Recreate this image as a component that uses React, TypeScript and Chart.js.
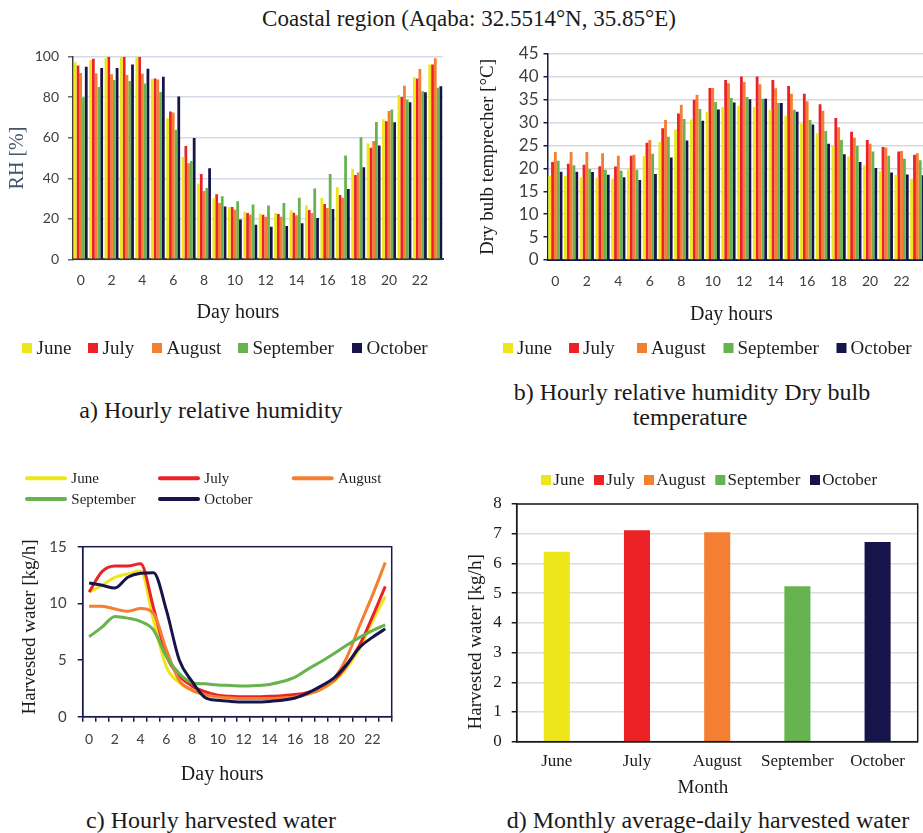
import React, { useEffect, useRef } from 'react';
import { Chart, registerables } from 'chart.js';

Chart.register(...registerables);

// ---------------- data ----------------
const hourLabels = ['0', '1', '2', '3', '4', '5', '6', '7', '8', '9', '10', '11', '12', '13', '14', '15', '16', '17', '18', '19', '20', '21', '22', '23'];
const monthNames = ['June', 'July', 'August', 'September', 'October'];
const monthColors = ['#ECE61B', '#EC2227', '#F47E32', '#67B34F', '#16144A'];

// a) hourly relative humidity [%]
const rhJune = [97.2, 98.2, 99.3, 100, 100, 89, 69.6, 50.5, 37.3, 30.1, 25.8, 23.5, 22.5, 22.9, 24.2, 26.6, 30.3, 35.7, 44.7, 57.2, 69.1, 81.1, 89.8, 96.2];
const rhJuly = [95.7, 99, 100, 100, 100, 89.3, 73, 55.9, 42.1, 32.1, 25.8, 22.9, 22.0, 22.4, 23.0, 24.3, 27.3, 31.7, 41.6, 55.1, 68.1, 80.1, 89.3, 96.2];
const rhAugust = [91.9, 91.8, 91.3, 91, 91.6, 88.7, 72.4, 47.4, 33.7, 27.8, 24.5, 22.0, 21.0, 21.0, 21.7, 22.9, 25.3, 30.4, 42.9, 58.4, 73.2, 85.7, 93.9, 99.2];
const rhSeptember = [80, 85, 88.5, 88, 86.8, 82.6, 64, 48.5, 35.2, 31.1, 28.6, 27.1, 26.6, 27.8, 30.4, 35.0, 42.1, 51.2, 60.2, 67.8, 74.0, 78.9, 82.9, 84.7];
const rhOctober = [95, 94.4, 94.4, 96.2, 94, 90.1, 80.4, 59.9, 45, 26, 19.6, 17.1, 16.1, 16.4, 17.8, 20.4, 24.8, 34.7, 45.4, 56.2, 67.6, 77.5, 82.4, 85.4];

// b) hourly dry bulb temperature [°C]
const tJune = [18.4, 18.35, 18.1, 18.0, 17.8, 19.7, 22.7, 25.8, 28.5, 30.7, 32.4, 33.4, 33.7, 33.4, 32.8, 31.5, 29.7, 27.7, 25.1, 22.6, 20.7, 19.4, 18.6, 17.7];
const tJuly = [21.4, 21.0, 20.8, 20.5, 20.4, 22.8, 25.6, 28.8, 32.0, 35.0, 37.6, 39.3, 40.1, 40.1, 39.3, 38.0, 36.3, 34.0, 31.0, 28.0, 26.2, 24.7, 23.7, 23.0];
const tAugust = [23.6, 23.6, 23.6, 23.3, 22.8, 23.0, 26.2, 30.6, 33.9, 36.1, 37.6, 38.6, 38.9, 38.4, 37.5, 36.3, 34.7, 32.6, 29.0, 26.7, 25.4, 24.6, 23.8, 23.3];
const tSeptember = [21.7, 20.7, 19.9, 19.7, 19.5, 19.7, 23.2, 26.9, 30.8, 33.0, 34.5, 35.4, 35.6, 35.2, 34.3, 32.8, 30.6, 28.2, 26.2, 24.9, 23.7, 22.8, 22.1, 21.8];
const tOctober = [19.3, 19.3, 19.2, 18.6, 18.1, 17.5, 18.8, 22.4, 26.1, 30.4, 32.9, 34.4, 35.1, 35.2, 34.3, 32.4, 29.6, 25.4, 23.1, 21.4, 20.1, 19.1, 18.7, 18.5];

// c) hourly harvested water [kg/h]
const hwJune = [11.0, 11.6, 12.3, 12.6, 12.85, 8.5, 4.4, 3.0, 2.3, 1.95, 1.75, 1.7, 1.65, 1.65, 1.65, 1.7, 1.8, 2.0, 2.4, 3.1, 4.3, 6.0, 8.4, 10.6];
const hwJuly = [11.0, 12.8, 13.3, 13.3, 13.5, 9.6, 5.4, 3.6, 2.7, 2.2, 1.9, 1.8, 1.75, 1.75, 1.8, 1.85, 1.95, 2.15, 2.5, 3.2, 4.5, 6.3, 8.8, 11.5];
const hwAugust = [9.75, 9.75, 9.5, 9.3, 9.55, 9.1, 5.9, 3.2, 2.35, 1.95, 1.75, 1.65, 1.6, 1.6, 1.6, 1.65, 1.75, 2.0, 2.4, 3.3, 5.2, 8.0, 10.7, 13.6];
const hwSeptember = [7.05, 7.9, 8.85, 8.7, 8.4, 7.65, 5.3, 3.8, 3.0, 2.9, 2.8, 2.75, 2.7, 2.75, 2.85, 3.1, 3.5, 4.2, 4.85, 5.55, 6.3, 7.0, 7.6, 8.1];
const hwOctober = [11.8, 11.6, 11.35, 12.3, 12.65, 12.7, 9.4, 5.0, 3.1, 1.7, 1.45, 1.35, 1.3, 1.3, 1.35, 1.45, 1.65, 2.1, 2.7, 3.4, 4.6, 6.1, 7.0, 7.75];

// d) monthly average-daily harvested water [kg/h]
const monthlyWater = [6.39, 7.12, 7.05, 5.23, 6.72];

const rhSeries = [rhJune, rhJuly, rhAugust, rhSeptember, rhOctober];
const tSeries = [tJune, tJuly, tAugust, tSeptember, tOctober];
const hwSeries = [hwJune, hwJuly, hwAugust, hwSeptember, hwOctober];

// ---------------- styling helpers ----------------
const SERIF = "'Liberation Serif', 'Times New Roman', serif";
const SANS = "Lato, 'Noto Sans', sans-serif";
const NAVY = '#1b1a4f';
const NB = '\u00a0';

type LegendCfg = { xs: number[]; ys: number[]; kind: 'box' | 'line'; size: number; gap: number; font: string; lineWidth?: number };

function makeLegend(cfg: LegendCfg) {
  return {
    id: 'fixedLegend',
    afterDraw(chart: any) {
      const ctx = chart.ctx;
      ctx.save();
      ctx.font = cfg.font;
      ctx.textBaseline = 'middle';
      ctx.textAlign = 'left';
      monthNames.forEach((name, i) => {
        const x = cfg.xs[i];
        const y = cfg.ys[i];
        if (cfg.kind === 'line') {
          ctx.strokeStyle = monthColors[i];
          ctx.lineWidth = cfg.lineWidth || 4;
          ctx.lineCap = 'round';
          ctx.beginPath();
          ctx.moveTo(x + 2, y);
          ctx.lineTo(x + cfg.size - 2, y);
          ctx.stroke();
        } else {
          ctx.fillStyle = monthColors[i];
          ctx.fillRect(x, y - cfg.size / 2, cfg.size, cfg.size);
        }
        ctx.fillStyle = '#1e1e1e';
        ctx.fillText(name, x + cfg.size + cfg.gap, y + 1);
      });
      ctx.restore();
    },
  };
}

function makeFrame(color: string, width: number) {
  return {
    id: 'frame',
    afterDraw(chart: any) {
      const { left, top, right, bottom } = chart.chartArea;
      const ctx = chart.ctx;
      ctx.save();
      ctx.strokeStyle = color;
      ctx.lineWidth = width;
      ctx.strokeRect(left, top, right - left, bottom - top);
      ctx.restore();
    },
  };
}

const evenHour = (_v: any, i: number) => (i % 2 === 0 ? hourLabels[i] : '');

export default function App() {
  const refA = useRef<HTMLCanvasElement>(null);
  const refB = useRef<HTMLCanvasElement>(null);
  const refC = useRef<HTMLCanvasElement>(null);
  const refD = useRef<HTMLCanvasElement>(null);

  useEffect(() => {
    const charts: Chart[] = [];

    // ---- a) hourly relative humidity ----
    charts.push(
      new Chart(refA.current as HTMLCanvasElement, {
        type: 'bar',
        data: {
          labels: hourLabels,
          datasets: monthNames.map((m, i) => ({
            label: m,
            data: rhSeries[i],
            backgroundColor: monthColors[i],
            borderWidth: 0,
            categoryPercentage: 0.9,
            barPercentage: 1.0,
          })),
        },
        options: {
          animation: false,
          responsive: false,
          layout: { padding: { top: 26.7, right: 17, bottom: 0, left: 0 } },
          plugins: { legend: { display: false }, tooltip: { enabled: false } },
          scales: {
            x: {
              grid: { display: false, drawTicks: false },
              border: { display: true, color: '#3a3a3a', width: 2 },
              ticks: { autoSkip: false, maxRotation: 0, padding: 13, color: '#404040', font: { family: SANS, size: 14 }, callback: evenHour },
              title: { display: true, text: 'Day hours' + NB.repeat(8), color: '#1a1a1a', font: { family: SERIF, size: 20 }, padding: { top: 0, bottom: 45 } },
              afterFit: (s: any) => { s.height = 110.7; },
            },
            y: {
              min: 0,
              max: 100,
              ticks: { stepSize: 20, autoSkip: false, padding: 9, color: '#404040', font: { family: SANS, size: 14 } },
              grid: { color: '#d5dbe6', lineWidth: 1.5, tickLength: 5, tickColor: '#6b6b6b' },
              border: { color: '#404040', width: 1.5 },
              title: { display: true, text: 'RH [%]', color: '#44546a', font: { family: SERIF, size: 20 }, padding: { top: 6, bottom: 0 } },
              afterFit: (s: any) => { s.width = 73; },
            },
          },
        } as any,
        plugins: [makeLegend({ xs: [22, 88, 152, 238, 352], ys: [318, 318, 318, 318, 318], kind: 'box', size: 10, gap: 4.5, font: `19px ${SERIF}` })],
      })
    );

    // ---- b) hourly dry bulb temperature ----
    charts.push(
      new Chart(refB.current as HTMLCanvasElement, {
        type: 'bar',
        data: {
          labels: hourLabels,
          datasets: monthNames.map((m, i) => ({
            label: m,
            data: tSeries[i],
            backgroundColor: monthColors[i],
            borderWidth: 0,
            categoryPercentage: 0.9,
            barPercentage: 1.0,
          })),
        },
        options: {
          animation: false,
          responsive: false,
          layout: { padding: { top: 24, right: 3.3, bottom: 0, left: 0 } },
          plugins: { legend: { display: false }, tooltip: { enabled: false } },
          scales: {
            x: {
              grid: { display: false, drawTicks: false },
              border: { display: true, color: NAVY, width: 2 },
              ticks: { autoSkip: false, maxRotation: 0, padding: 12.6, color: '#404040', font: { family: SANS, size: 14 }, callback: evenHour },
              title: { display: true, text: 'Day hours' + NB.repeat(2), color: '#1a1a1a', font: { family: SERIF, size: 20 }, padding: { top: 0, bottom: 43 } },
              afterFit: (s: any) => { s.height = 110; },
            },
            y: {
              min: 0,
              max: 45,
              ticks: { stepSize: 5, autoSkip: false, padding: 5, color: '#404040', font: { family: SANS, size: 17 } },
              grid: { color: '#d9d9d9', lineWidth: 1.5, tickLength: 4, tickColor: NAVY },
              border: { color: NAVY, width: 1.5 },
              title: { display: true, text: 'Dry bulb temprecher [°C]', color: '#1a1a1a', font: { family: SERIF, size: 19 }, padding: { top: 6.9, bottom: 0 } },
              afterFit: (s: any) => { s.width = 77.5; },
            },
          },
        } as any,
        plugins: [makeLegend({ xs: [33, 99, 167, 253.5, 366.5], ys: [318, 318, 318, 318, 318], kind: 'box', size: 10, gap: 4, font: `19px ${SERIF}` })],
      })
    );

    // ---- c) hourly harvested water ----
    charts.push(
      new Chart(refC.current as HTMLCanvasElement, {
        type: 'line',
        data: {
          labels: hourLabels,
          datasets: monthNames.map((m, i) => ({
            label: m,
            data: hwSeries[i],
            borderColor: monthColors[i],
            backgroundColor: monthColors[i],
            borderWidth: 3,
            pointRadius: 0,
            cubicInterpolationMode: 'monotone',
            fill: false,
            order: 4 - i,
          })),
        },
        options: {
          animation: false,
          responsive: false,
          layout: { padding: { top: 91.7, right: 18.3, bottom: 0, left: 0 } },
          plugins: { legend: { display: false }, tooltip: { enabled: false } },
          scales: {
            x: {
              offset: true,
              grid: { display: true, drawOnChartArea: false, offset: true, tickLength: 5, color: NAVY, lineWidth: 1.5 },
              border: { display: true, color: NAVY, width: 1.5 },
              ticks: { autoSkip: false, maxRotation: 0, padding: 9, color: '#404040', font: { family: SANS, size: 14 }, callback: evenHour },
              title: { display: true, text: 'Day hours' + NB.repeat(6), color: '#1a1a1a', font: { family: SERIF, size: 20 }, padding: { top: 0, bottom: 13 } },
              afterFit: (s: any) => { s.height = 83.3; },
            },
            y: {
              min: 0,
              max: 15,
              ticks: { stepSize: 5, autoSkip: false, padding: 11, color: '#404040', font: { family: SANS, size: 15 } },
              grid: { display: true, drawOnChartArea: false, tickLength: 5, color: NAVY, lineWidth: 1.5 },
              border: { color: NAVY, width: 1.5 },
              title: { display: true, text: NB + NB + 'Harvested water [kg/h]', color: '#1a1a1a', font: { family: SERIF, size: 19 }, padding: { top: 18.6, bottom: 0 } },
              afterFit: (s: any) => { s.width = 82.7; },
            },
          },
        } as any,
        plugins: [
          makeFrame(NAVY, 1.5),
          makeLegend({ xs: [25, 158, 291.7, 25, 158], ys: [23.3, 23.3, 23.3, 44, 44], kind: 'line', size: 42, gap: 4.3, font: `15px ${SERIF}`, lineWidth: 4 }),
        ],
      })
    );

    // ---- d) monthly average-daily harvested water ----
    charts.push(
      new Chart(refD.current as HTMLCanvasElement, {
        type: 'bar',
        data: {
          labels: monthNames,
          datasets: [
            {
              label: 'Harvested water',
              data: monthlyWater,
              backgroundColor: monthColors,
              borderWidth: 0,
              barPercentage: 0.325,
              categoryPercentage: 1,
            },
          ],
        },
        options: {
          animation: false,
          responsive: false,
          layout: { padding: { top: 49, right: 5.3, bottom: 0, left: 0 } },
          plugins: { legend: { display: false }, tooltip: { enabled: false } },
          scales: {
            x: {
              grid: { display: false, drawTicks: false },
              border: { display: true, color: '#1a1a1a', width: 1.5 },
              ticks: { padding: 10, color: '#1a1a1a', font: { family: SERIF, size: 17 } },
              title: { display: true, text: 'Month' + NB.repeat(6), color: '#1a1a1a', font: { family: SERIF, size: 19 }, padding: { top: 0, bottom: 0.3 } },
              afterFit: (s: any) => { s.height = 58.3; },
            },
            y: {
              min: 0,
              max: 8,
              ticks: { stepSize: 1, autoSkip: false, padding: 10, color: '#1a1a1a', font: { family: SERIF, size: 17 } },
              grid: { color: '#dcdcdc', lineWidth: 1.5, tickLength: 5, tickColor: '#1a1a1a' },
              border: { color: '#1a1a1a', width: 1.5 },
              title: { display: true, text: 'Harvested water [kg/h]' + NB.repeat(8), color: '#1a1a1a', font: { family: SERIF, size: 19 }, padding: { top: 34.6, bottom: 0 } },
              afterFit: (s: any) => { s.width = 86.7; },
            },
          },
        } as any,
        plugins: [
          makeFrame('#1a1a1a', 1.5),
          makeLegend({ xs: [111, 164, 214, 285.3, 380], ys: [25, 25, 25, 25, 25], kind: 'box', size: 10, gap: 2.3, font: `17px ${SERIF}` }),
        ],
      })
    );

    return () => charts.forEach((c) => c.destroy());
  }, []);

  const caption = (text: string, cx: number, cy: number, size: number): React.ReactElement => (
    <div
      key={text}
      style={{
        position: 'absolute',
        left: cx - 300,
        top: cy - size * 0.6,
        width: 600,
        lineHeight: `${size * 1.2}px`,
        fontSize: size,
        fontFamily: SERIF,
        textAlign: 'center',
        color: '#1a1a1a',
        whiteSpace: 'nowrap',
      }}
    >
      {text}
    </div>
  );

  return (
    <div style={{ position: 'fixed', left: 0, top: 0, width: 923, height: 833, overflow: 'hidden', background: '#ffffff' }}>
      {caption('Coastal region (Aqaba: 32.5514°N, 35.85°E)', 469, 19, 23)}
      <canvas ref={refA} width={460} height={340} style={{ position: 'absolute', left: 0, top: 30 }} />
      <canvas ref={refB} width={460} height={340} style={{ position: 'absolute', left: 470, top: 30 }} />
      <canvas ref={refC} width={410} height={345} style={{ position: 'absolute', left: 0, top: 455 }} />
      <canvas ref={refD} width={493} height={345} style={{ position: 'absolute', left: 430, top: 455 }} />
      {caption('a) Hourly relative humidity', 211, 410, 24)}
      {caption('b) Hourly relative humidity Dry bulb', 692, 392, 24)}
      {caption('temperature', 690, 417, 24)}
      {caption('c) Hourly harvested water', 211, 820, 24)}
      {caption('d) Monthly average-daily harvested water', 708, 820, 24)}
    </div>
  );
}
